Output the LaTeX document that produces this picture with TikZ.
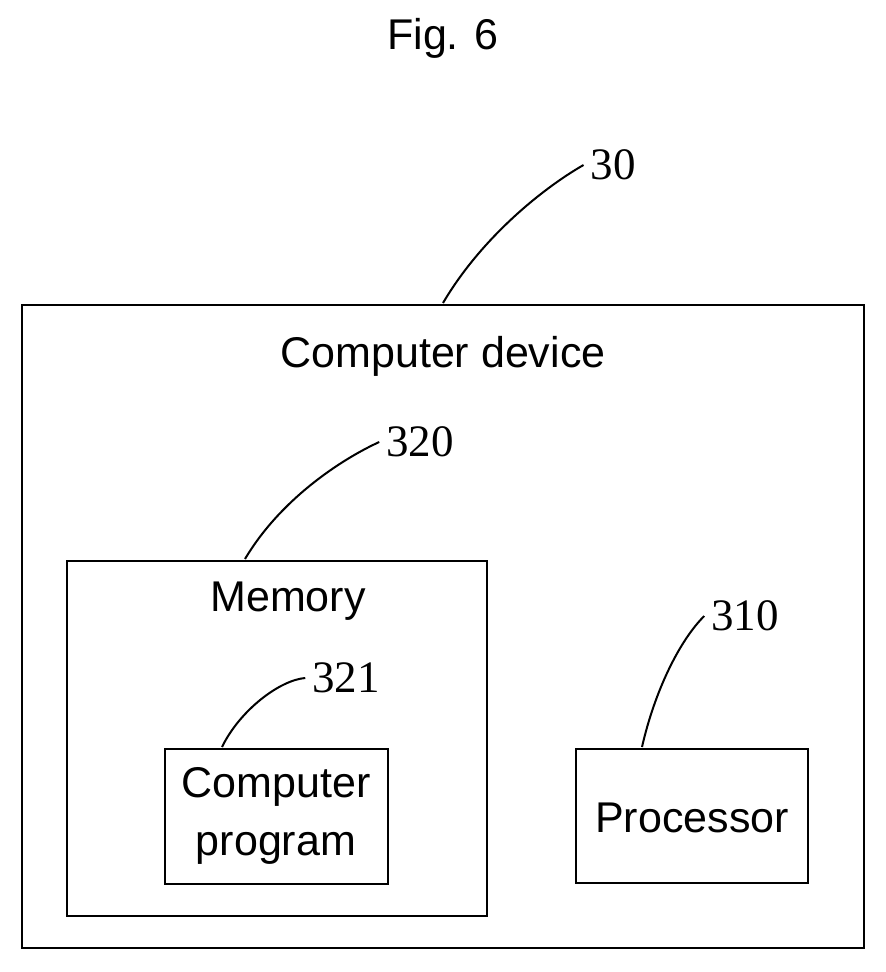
\documentclass[tikz,border=0pt]{standalone}
\usepackage{fontspec}
\setmainfont{Liberation Sans}
\newfontfamily\numfont{Liberation Serif}
\begin{document}
\begin{tikzpicture}[x=1pt,y=-1pt,line width=2pt,
  txt/.style={font=\fontsize{43}{58}\selectfont,align=center},
  num/.style={font=\numfont\fontsize{45}{45}\selectfont,inner sep=0pt}]
\useasboundingbox (0,0) rectangle (886,972);
\node [txt] (fig) at (443,38) {Fig. 6};
\draw (22,305) rectangle (864,948);
\draw (67,561) rectangle (487,916);
\draw (165,749) rectangle (388,884);
\draw (576,749) rectangle (808,883);
\coordinate (dev) at (443,303);
\coordinate (mem) at (245,559);
\coordinate (prog) at (222,747);
\coordinate (proc) at (642,747);
\node [txt] (devtxt) at (443,356) {Computer device};
\node [txt] (memtxt) at (288,601) {Memory};
\node [txt] (progtxt) at (276,816) {Computer\\program};
\node [txt] (proctxt) at (692,818) {Processor};
\node [num] (n30) at (613,165) {30};
\node [num] (n320) at (420,442) {320};
\node [num] (n321) at (346,678) {321};
\node [num] (n310) at (745,616) {310};
\draw (dev) .. controls (480,240) and (540,190) .. ([xshift=-6pt]n30.west);
\draw (mem) .. controls (280,500) and (340,460) .. ([xshift=-6pt]n320.west);
\draw (prog) .. controls (240,710) and (280,680) .. ([xshift=-6pt]n321.west);
\draw (proc) .. controls (655,690) and (680,640) .. ([xshift=-6pt]n310.west);
\end{tikzpicture}
\end{document}
